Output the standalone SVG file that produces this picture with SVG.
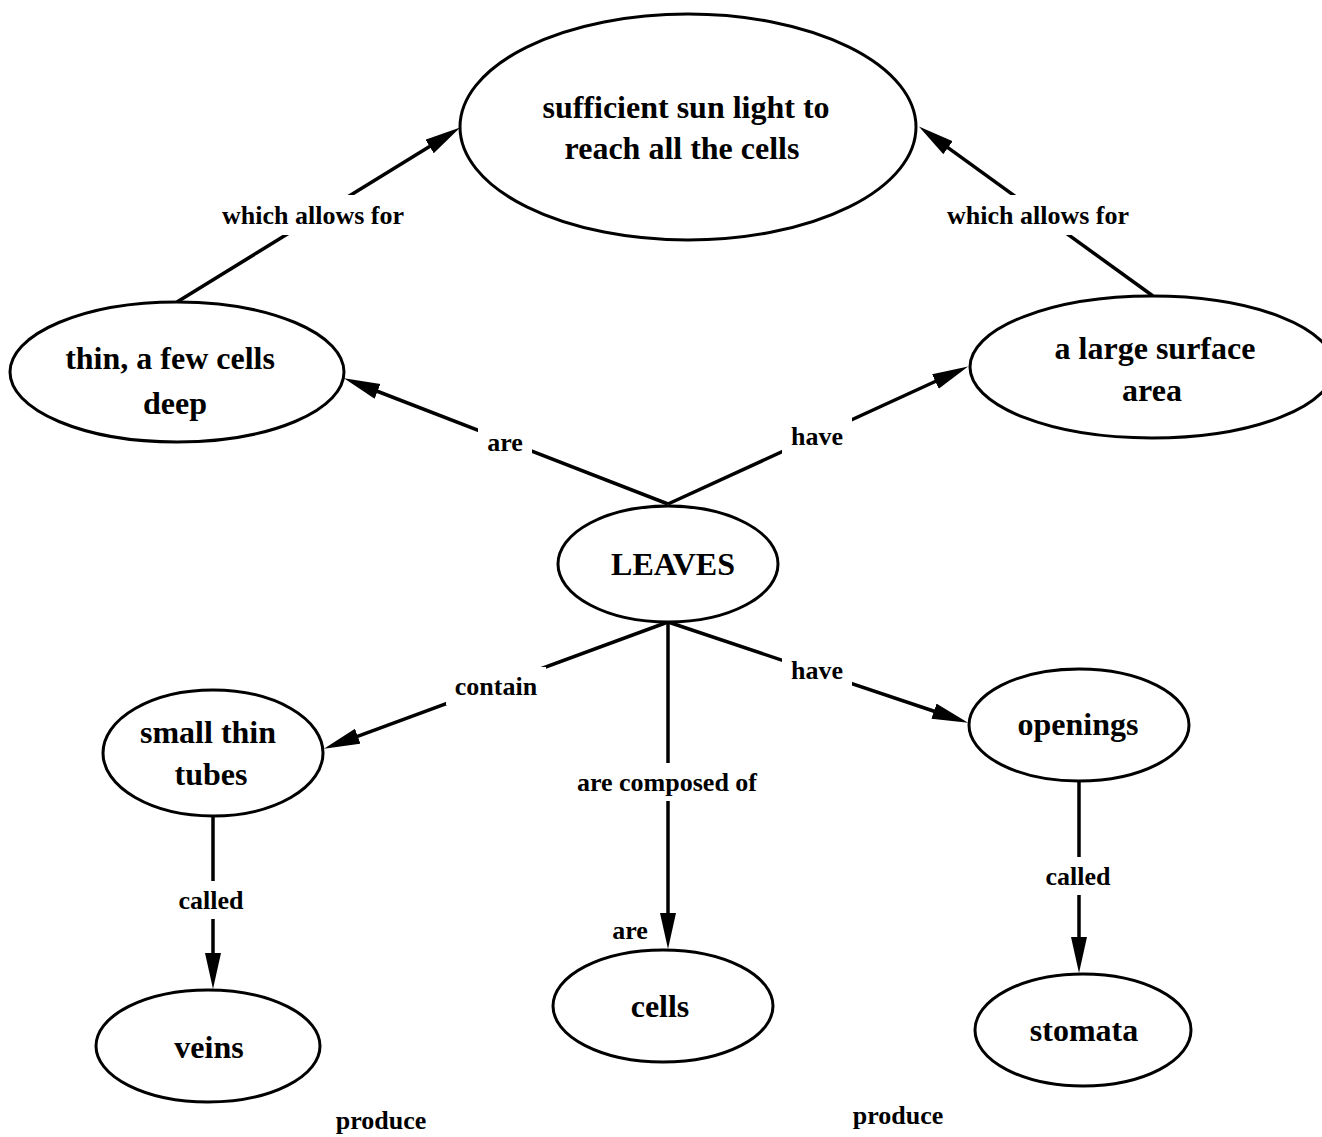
<svg xmlns="http://www.w3.org/2000/svg" width="1322" height="1137" viewBox="0 0 1322 1137">
  <style>
    .node ellipse { fill: #fff; stroke: #000; stroke-width: 3; }
    .node text { font-family: "Liberation Serif", "Times New Roman", serif; font-weight: bold; font-size: 32px; text-anchor: middle; fill: #000; }
    .edge line { stroke: #000; stroke-width: 3.5; }
    .lbl rect { fill: #fff; }
    .lbl text, .free { font-family: "Liberation Serif", "Times New Roman", serif; font-weight: bold; font-size: 26px; text-anchor: middle; fill: #000; }
  </style>
  <defs>
    <!-- long narrow arrowhead; the line stops at its base -->
    <marker id="arrow" markerUnits="userSpaceOnUse" markerWidth="38" markerHeight="18" refX="1" refY="8" orient="auto">
      <path d="M0,0 L36,8 L0,16 z" fill="#000"/>
    </marker>
  </defs>
  <rect width="1322" height="1137" fill="#fff"/>

  <!-- connectors -->
  <g id="connectors">
    <g class="edge">
      <line x1="177" y1="302" x2="430.4" y2="145.9" marker-end="url(#arrow)"/>
      <line x1="1153" y1="296" x2="947.2" y2="147.1" marker-end="url(#arrow)"/>
      <line x1="668" y1="504" x2="376.6" y2="391.0" marker-end="url(#arrow)"/>
      <line x1="668" y1="504" x2="936.3" y2="381.0" marker-end="url(#arrow)"/>
      <line x1="668" y1="622" x2="356.8" y2="736.6" marker-end="url(#arrow)"/>
      <line x1="668" y1="622" x2="668" y2="914" marker-end="url(#arrow)"/>
      <line x1="668" y1="622" x2="934.9" y2="711.5" marker-end="url(#arrow)"/>
      <line x1="213" y1="816" x2="213" y2="954" marker-end="url(#arrow)"/>
      <line x1="1079" y1="781" x2="1079" y2="938" marker-end="url(#arrow)"/>
    </g>
    <g class="lbl">
      <rect x="212" y="195" width="202" height="40"/>
      <text x="313" y="224">which allows for</text>
      <rect x="937" y="195" width="202" height="40"/>
      <text x="1038" y="224">which allows for</text>
      <rect x="478" y="423" width="54" height="38"/>
      <text x="505" y="451">are</text>
      <rect x="782" y="417" width="70" height="38"/>
      <text x="817" y="445">have</text>
      <rect x="446" y="667" width="100" height="38"/>
      <text x="496" y="695">contain</text>
      <rect x="782" y="651" width="70" height="38"/>
      <text x="817" y="679">have</text>
      <rect x="569" y="763" width="198" height="38"/>
      <text x="667" y="791">are composed of</text>
      <rect x="167" y="881" width="88" height="38"/>
      <text x="211" y="909">called</text>
      <rect x="1034" y="857" width="88" height="38"/>
      <text x="1078" y="885">called</text>
    </g>
  </g>

  <!-- loose labels -->
  <text class="free" x="630" y="939">are</text>
  <text class="free" x="381" y="1129">produce</text>
  <text class="free" x="898" y="1124">produce</text>

  <!-- nodes -->
  <g id="sunlight" class="node">
    <ellipse cx="688" cy="127" rx="228" ry="113"/>
    <text x="686" y="118">sufficient sun light to</text>
    <text x="682" y="159">reach all the cells</text>
  </g>
  <g id="thin" class="node">
    <ellipse cx="177" cy="372" rx="167" ry="70"/>
    <text x="170" y="369">thin, a few cells</text>
    <text x="175" y="414">deep</text>
  </g>
  <g id="surface" class="node">
    <ellipse cx="1152" cy="367" rx="182" ry="71"/>
    <text x="1155" y="359">a large surface</text>
    <text x="1152" y="401">area</text>
  </g>
  <g id="leaves" class="node">
    <ellipse cx="668" cy="564" rx="110" ry="58"/>
    <text x="673" y="575">LEAVES</text>
  </g>
  <g id="tubes" class="node">
    <ellipse cx="213" cy="753" rx="110" ry="63"/>
    <text x="208" y="743">small thin</text>
    <text x="211" y="785">tubes</text>
  </g>
  <g id="openings" class="node">
    <ellipse cx="1079" cy="725" rx="110" ry="56"/>
    <text x="1078" y="735">openings</text>
  </g>
  <g id="cells" class="node">
    <ellipse cx="663" cy="1006" rx="110" ry="56"/>
    <text x="660" y="1017">cells</text>
  </g>
  <g id="veins" class="node">
    <ellipse cx="208" cy="1046" rx="112" ry="56"/>
    <text x="209" y="1058">veins</text>
  </g>
  <g id="stomata" class="node">
    <ellipse cx="1083" cy="1030" rx="108" ry="56"/>
    <text x="1084" y="1041">stomata</text>
  </g>
</svg>
